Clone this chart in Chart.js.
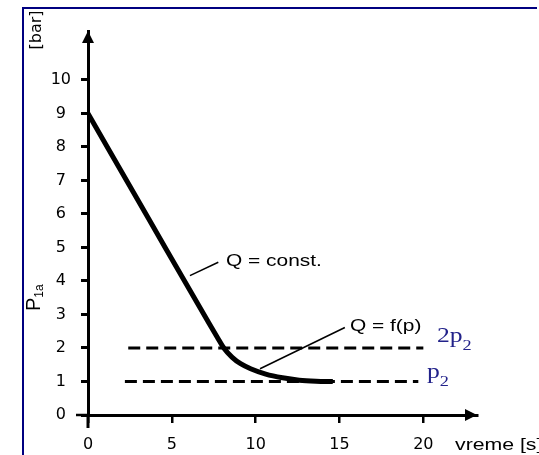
<!DOCTYPE html>
<html><head><meta charset="utf-8">
<script src="https://cdn.jsdelivr.net/npm/chart.js@4/dist/chart.umd.min.js"></script>
<style>html,body{margin:0;padding:0;background:#fff;overflow:hidden}#wrap{position:relative;width:539px;height:455px}</style>
</head><body><div id="wrap"><canvas id="c" width="539" height="455"></canvas></div>
<script>
// ---- data ----
const timeS       = [0, 3.6, 7.2, 7.7, 8.1, 8.6, 9.1, 9.7, 10.6, 11.6, 12.6, 13.6, 14.6];
const pressureBar = [9, 5.87, 2.75, 2.33, 2.0, 1.72, 1.53, 1.38, 1.22, 1.11, 1.04, 1.01, 1.0];
const line2p2X = [2.4, 20.0];
const line2p2Y = [2, 2];
const lineP2X  = [2.2, 19.7];
const lineP2Y  = [1, 1];
const xTickValues = [0, 5, 10, 15, 20];
const yTickValues = [0, 1, 2, 3, 4, 5, 6, 7, 8, 9, 10];
const xMax = 23.2;
const yMax = 11.46;

const toPts = (xs, ys) => xs.map((x, i) => ({x: x, y: ys[i]}));
const NAVY = '#22228a';

const annot = {
  id: 'annot',
  beforeDraw(chart) {
    const c = chart.ctx;
    c.save();
    c.fillStyle = '#fff';
    c.fillRect(0, 0, chart.width, chart.height);
    c.strokeStyle = '#000080';
    c.lineWidth = 2;
    c.beginPath();
    c.moveTo(23, 455); c.lineTo(23, 8); c.lineTo(537, 8);
    c.stroke();
    c.restore();
  },
  afterDraw(chart) {
    const c = chart.ctx, xs = chart.scales.x, ys = chart.scales.y;
    const X = v => xs.getPixelForValue(v), Y = v => ys.getPixelForValue(v);
    const ox = X(0), oy = Y(0);
    c.save();
    c.fillStyle = '#000'; c.strokeStyle = '#000';
    // axis extensions past the origin
    c.lineWidth = 3;
    c.beginPath(); c.moveTo(ox, oy); c.lineTo(ox, oy + 13); c.stroke();
    c.lineWidth = 2.5;
    c.beginPath(); c.moveTo(ox - 12, oy); c.lineTo(ox, oy); c.stroke();
    // arrowheads
    const ty = Y(yMax), tx = X(xMax);
    c.beginPath(); c.moveTo(ox, ty); c.lineTo(ox - 6, ty + 12); c.lineTo(ox + 6, ty + 12); c.closePath(); c.fill();
    c.beginPath(); c.moveTo(tx, oy); c.lineTo(tx - 12, oy - 6); c.lineTo(tx - 12, oy + 6); c.closePath(); c.fill();
    // leader lines
    c.lineWidth = 1.5;
    c.beginPath(); c.moveTo(X(6.08), Y(4.16)); c.lineTo(X(7.77), Y(4.56)); c.stroke();
    c.beginPath(); c.moveTo(X(10.26), Y(1.38)); c.lineTo(X(15.32), Y(2.61)); c.stroke();
    // stretched helvetica-like labels
    const sText = (t, x, y, font, sx, color) => {
      c.save(); c.translate(x, y); c.scale(sx, 1);
      c.font = font; c.fillStyle = color || '#000'; c.textBaseline = 'alphabetic'; c.textAlign = 'left';
      c.fillText(t, 0, 0); const w = c.measureText(t).width * sx; c.restore(); return w;
    };
    sText('Q = const.', X(8.23), Y(4.63) + 6.5, '17px "Liberation Sans", Arial, sans-serif', 1.23);
    sText('Q = f(p)', X(15.62), Y(2.71) + 6.5, '17px "Liberation Sans", Arial, sans-serif', 1.23);
    sText('vreme [s]', 455, 450, '17px "Liberation Sans", Arial, sans-serif', 1.25);
    // 2p2 and p2
    let w = sText('2p', 437, 342, '21px "Liberation Serif", "Times New Roman", serif', 1.22, NAVY);
    sText('2', 437 + w, 350, '15px "Liberation Serif", "Times New Roman", serif', 1.22, NAVY);
    w = sText('p', 427, 378, '21px "Liberation Serif", "Times New Roman", serif', 1.22, NAVY);
    sText('2', 427 + w, 386, '15px "Liberation Serif", "Times New Roman", serif', 1.22, NAVY);
    // rotated y labels
    c.save(); c.translate(41, 30); c.rotate(-Math.PI / 2);
    c.font = '16px "DejaVu Sans", sans-serif'; c.textAlign = 'center'; c.textBaseline = 'alphabetic';
    c.fillText('[bar]', 0, 0); c.restore();
    c.save(); c.translate(40, 311); c.rotate(-Math.PI / 2);
    c.font = '20px "Liberation Sans", Arial, sans-serif'; c.textAlign = 'left'; c.textBaseline = 'alphabetic';
    c.fillText('P', 0, 0);
    const pw = c.measureText('P').width;
    c.font = '12px "Liberation Sans", Arial, sans-serif';
    c.fillText('1a', pw, 3);
    c.restore();
    c.restore();
  }
};

new Chart(document.getElementById('c'), {
  type: 'scatter',
  data: {
    datasets: [
      { data: toPts(timeS, pressureBar), showLine: true, borderColor: '#000', borderWidth: 5,
        pointRadius: 0, cubicInterpolationMode: 'monotone', borderCapStyle: 'butt', borderJoinStyle: 'round' },
      { data: toPts(line2p2X, line2p2Y), showLine: true, borderColor: '#000', borderWidth: 3,
        borderDash: [12, 6], pointRadius: 0 },
      { data: toPts(lineP2X, lineP2Y), showLine: true, borderColor: '#000', borderWidth: 3,
        borderDash: [12, 6], pointRadius: 0 }
    ]
  },
  options: {
    responsive: false,
    devicePixelRatio: 1,
    animation: false,
    layout: { padding: { left: 0, top: 31, right: 62, bottom: 0 } },
    plugins: { legend: { display: false }, tooltip: { enabled: false } },
    scales: {
      x: {
        type: 'linear', min: 0, max: xMax,
        afterBuildTicks: s => { s.ticks = xTickValues.map(v => ({ value: v })); },
        afterFit: s => { s.height = 40; },
        ticks: { color: '#000', font: { family: 'DejaVu Sans', size: 16 }, padding: 12, maxRotation: 0, autoSkip: false },
        grid: { drawOnChartArea: false, color: '#000', lineWidth: 2.5, tickLength: 8 },
        border: { color: '#000', width: 3 }
      },
      y: {
        type: 'linear', min: 0, max: yMax,
        afterBuildTicks: s => { s.ticks = yTickValues.map(v => ({ value: v })); },
        afterFit: s => { s.width = 88; },
        ticks: { color: '#000', font: { family: 'DejaVu Sans', size: 16 }, padding: 10, crossAlign: 'center', autoSkip: false },
        grid: { drawOnChartArea: false, color: '#000', lineWidth: 3, tickLength: 7 },
        border: { color: '#000', width: 3 }
      }
    }
  },
  plugins: [annot]
});
</script>
</body></html>
